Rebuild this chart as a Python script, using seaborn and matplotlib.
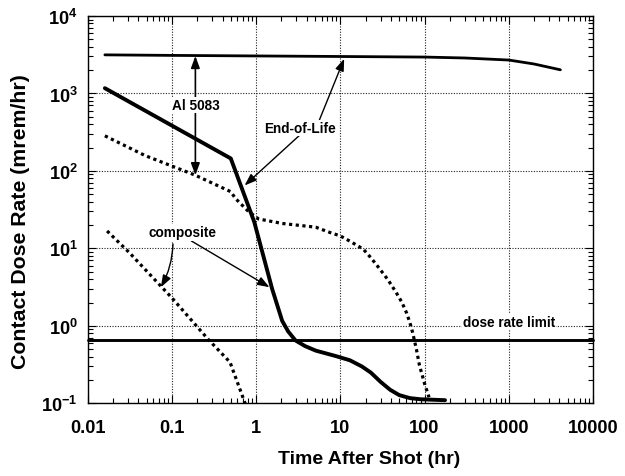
import numpy as np
import pandas as pd
import matplotlib
matplotlib.use("Agg")
import matplotlib.pyplot as plt
import matplotlib.font_manager as fm
from matplotlib.ticker import LogLocator, NullFormatter, FixedLocator, FixedFormatter
import seaborn as sns

# ---------------- data ----------------
t_al = [0.016, 0.1, 1, 10, 100, 300, 1000, 2000, 4100]
d_al = [3150, 3100, 3050, 3000, 2950, 2870, 2700, 2400, 2020]

t_eol = [0.016, 0.5, 0.95, 1.55, 2.04, 2.4, 2.93, 3.8, 5.1, 8.7, 13, 18, 23,
         30, 39, 50, 67, 90, 113, 175]
d_eol = [1170, 145, 22, 3.0, 1.16, 0.85, 0.65, 0.55, 0.48, 0.41, 0.36, 0.30, 0.25,
         0.19, 0.15, 0.128, 0.117, 0.113, 0.112, 0.11]

t_comp_hi = [0.016, 0.048, 0.19, 0.5, 0.57, 0.81, 1.07, 2.04, 5.1, 7.6, 10, 13,
             18.7, 23, 29.5, 37, 46, 54, 61, 67, 72, 80, 87, 100, 113]
d_comp_hi = [284, 158, 88, 54, 44, 30, 24, 21, 18.8, 16, 14.5, 12.4,
             9.8, 7.6, 5.4, 3.9, 2.7, 2.0, 1.48, 1.1, 0.83, 0.5, 0.31, 0.18, 0.12]

t_comp_lo = [0.017, 0.031, 0.1, 0.27, 0.49, 0.74]
d_comp_lo = [16.8, 8.9, 2.3, 0.67, 0.34, 0.10]

dose_limit = 0.65

x_ticks = [0.01, 0.1, 1, 10, 100, 1000, 10000]
x_ticklabels = ["0.01", "0.1", "1", "10", "100", "1000", "10000"]
y_ticks = [0.1, 1, 10, 100, 1000, 10000]
y_ticklabels = [r"$10^{-1}$", r"$10^{0}$", r"$10^{1}$", r"$10^{2}$", r"$10^{3}$", r"$10^{4}$"]

x_label = "Time After Shot (hr)"
y_label = "Contact Dose Rate (mrem/hr)"

# ---------------- style ----------------
sns.set_style("ticks")
avail = {f.name for f in fm.fontManager.ttflist}
if "Liberation Sans Narrow" in avail:
    FAM, k = "Liberation Sans Narrow", 1.0
else:
    FAM, k = "Liberation Sans", 0.85
plt.rcParams["font.family"] = [FAM, "DejaVu Sans"]
plt.rcParams["font.weight"] = "bold"
plt.rcParams["mathtext.fontset"] = "custom"
plt.rcParams["mathtext.rm"] = f"{FAM}:bold"
plt.rcParams["mathtext.it"] = f"{FAM}:bold"
plt.rcParams["mathtext.bf"] = f"{FAM}:bold"
for key in ["text.color", "axes.labelcolor", "xtick.color", "ytick.color",
            "axes.edgecolor"]:
    plt.rcParams[key] = "black"

fig = plt.figure(figsize=(6.25, 4.77), dpi=100)
ax = fig.add_axes([0.1403, 0.1522, 0.8085, 0.8122])
ax.set_xscale("log")
ax.set_yscale("log")

sns.lineplot(x=t_al, y=d_al, ax=ax, color="black", lw=2.0,
             estimator=None, sort=False)
sns.lineplot(x=t_eol, y=d_eol, ax=ax, color="black", lw=2.8,
             estimator=None, sort=False)
sns.lineplot(x=t_comp_hi, y=d_comp_hi, ax=ax, color="black", lw=2.3,
             linestyle=(0, (1, 1.1)), estimator=None, sort=False)
sns.lineplot(x=t_comp_lo, y=d_comp_lo, ax=ax, color="black", lw=2.3,
             linestyle=(0, (1, 1.1)), estimator=None, sort=False)
ax.axhline(dose_limit, color="black", lw=2.1, clip_on=False)

ax.set_xlim(0.01, 10000)
ax.set_ylim(0.1, 10000)

ax.xaxis.set_major_locator(FixedLocator(x_ticks))
ax.xaxis.set_major_formatter(FixedFormatter(x_ticklabels))
ax.yaxis.set_major_locator(FixedLocator(y_ticks))
ax.yaxis.set_major_formatter(FixedFormatter(y_ticklabels))
ax.xaxis.set_minor_locator(LogLocator(base=10, subs=np.arange(2, 10)))
ax.yaxis.set_minor_locator(LogLocator(base=10, subs=np.arange(2, 10)))
ax.xaxis.set_minor_formatter(NullFormatter())
ax.yaxis.set_minor_formatter(NullFormatter())

ax.grid(True, which="major", ls=(0, (1, 1.4)), lw=0.8, color="#222222")
ax.tick_params(which="both", direction="in", top=True, right=True, width=0.8,
               color="black", labelcolor="black")
ax.tick_params(which="major", length=6)
ax.tick_params(which="minor", length=3.5)
ax.tick_params(axis="x", which="major", pad=11, labelsize=15.5 * k)
ax.tick_params(axis="y", which="major", pad=7, labelsize=15.5 * k)
for lab in ax.get_xticklabels() + ax.get_yticklabels():
    lab.set_fontweight("bold")
for sp in ax.spines.values():
    sp.set_linewidth(1.0)
    sp.set_color("black")

ax.set_xlabel(x_label, fontsize=16.5 * k, fontweight="bold", va="center",
              color="black")
ax.xaxis.set_label_coords(0.557, -0.1435)
ax.set_ylabel(y_label, fontsize=18 * k, fontweight="bold", va="center",
              color="black")
ax.yaxis.set_label_coords(-0.132, 0.471)

# ---------------- annotations ----------------
afs = 11.5 * k
wbox = dict(facecolor="white", edgecolor="none", pad=1.0)
head = "-|>,head_length=0.6,head_width=0.22"
dhead = "<|-|>,head_length=0.6,head_width=0.22"

ax.annotate("", xy=(0.19, 3050), xytext=(0.19, 88),
            arrowprops=dict(arrowstyle=dhead, color="black", lw=1.2,
                            shrinkA=0, shrinkB=0, mutation_scale=12))
ax.text(0.19, 707, "Al 5083", ha="center", va="center", fontsize=afs,
        fontweight="bold", bbox=wbox, zorder=5, color="black")

ax.annotate("", xy=(11.1, 2800), xytext=(5.6, 446),
            arrowprops=dict(arrowstyle=head, color="black", lw=1.0,
                            shrinkA=0, shrinkB=0, mutation_scale=12))
ax.annotate("", xy=(0.73, 65), xytext=(3.25, 286),
            arrowprops=dict(arrowstyle=head, color="black", lw=1.0,
                            shrinkA=0, shrinkB=0, mutation_scale=12))
ax.text(3.33, 357, "End-of-Life", ha="center", va="center", fontsize=afs,
        fontweight="bold", bbox=wbox, zorder=5, color="black")

ax.annotate("", xy=(0.074, 3.16), xytext=(0.103, 11.4),
            arrowprops=dict(arrowstyle=head, color="black", lw=1.0,
                            shrinkA=0, shrinkB=0, mutation_scale=12,
                            connectionstyle="arc3,rad=-0.12"))
ax.annotate("", xy=(1.44, 3.16), xytext=(0.17, 12.5),
            arrowprops=dict(arrowstyle=head, color="black", lw=1.0,
                            shrinkA=0, shrinkB=0, mutation_scale=12))
ax.text(0.135, 16.2, "composite", ha="center", va="center", fontsize=afs,
        fontweight="bold", bbox=wbox, zorder=5, color="black")

ax.text(1016, 1.13, "dose rate limit", ha="center", va="center", fontsize=afs,
        fontweight="bold", bbox=dict(facecolor="white", edgecolor="none", pad=0.6),
        zorder=5, color="black")

fig.savefig("out.png", dpi=100)
